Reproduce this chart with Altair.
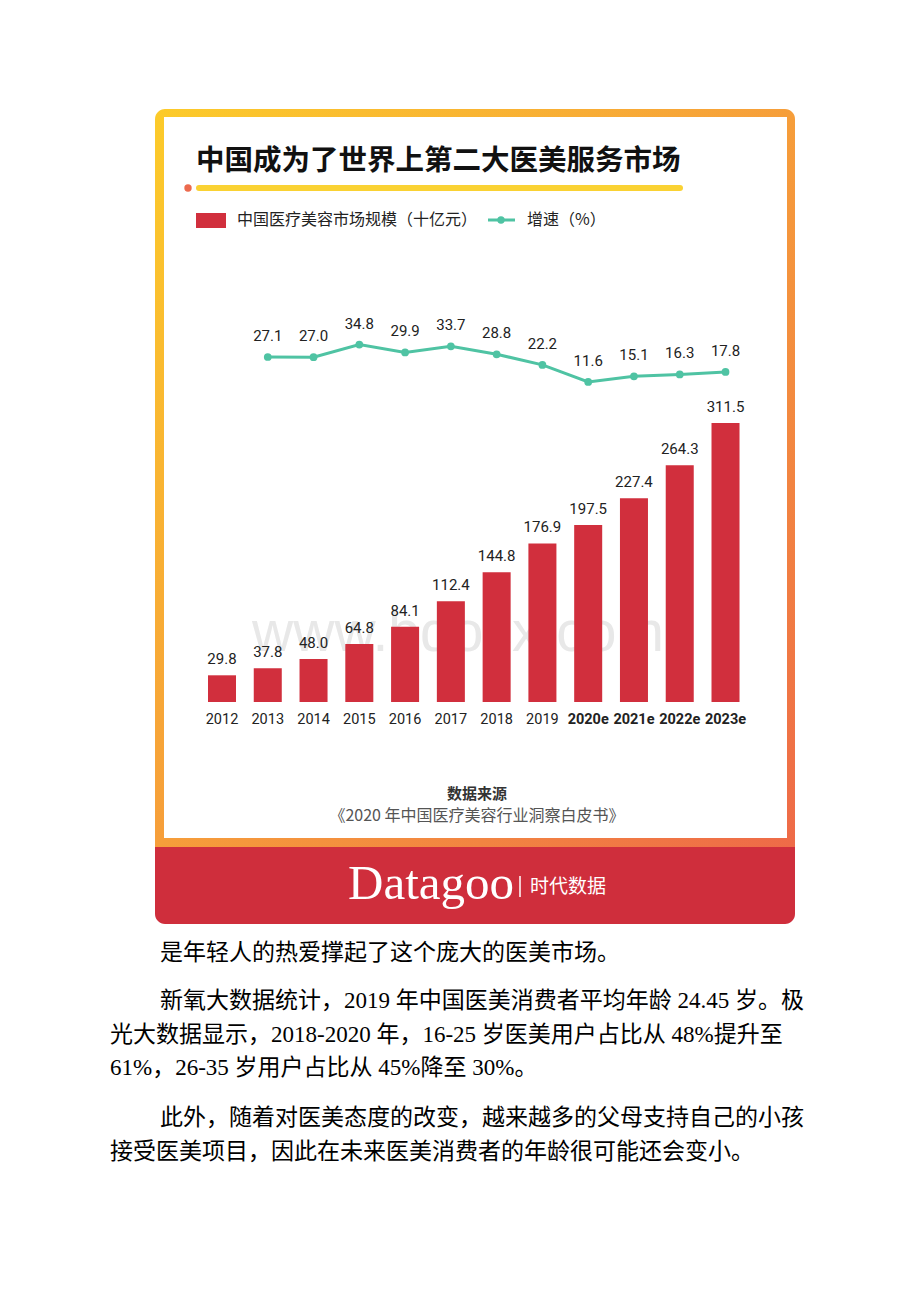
import altair as alt
import pandas as pd

# ---------------- data ----------------
years = ["2012", "2013", "2014", "2015", "2016", "2017", "2018", "2019",
         "2020e", "2021e", "2022e", "2023e"]
market_size = [29.8, 37.8, 48.0, 64.8, 84.1, 112.4, 144.8, 176.9,
               197.5, 227.4, 264.3, 311.5]
growth_years = ["2013", "2014", "2015", "2016", "2017", "2018", "2019",
                "2020e", "2021e", "2022e", "2023e"]
growth_rate = [27.1, 27.0, 34.8, 29.9, 33.7, 28.8, 22.2, 11.6, 15.1, 16.3, 17.8]

title_text = "中国成为了世界上第二大医美服务市场"
legend_bar_label = "中国医疗美容市场规模（十亿元）"
legend_line_label = "增速（%）"
source_title = "数据来源"
source_text = "《2020 年中国医疗美容行业洞察白皮书》"
brand_text = "Datagoo"
brand_cn = "时代数据"
watermark_text = "www.bdocx.com"
body_lines = [
    "是年轻人的热爱撑起了这个庞大的医美市场。",
    "新氧大数据统计，2019 年中国医美消费者平均年龄 24.45 岁。极",
    "光大数据显示，2018-2020 年，16-25 岁医美用户占比从 48%提升至",
    "61%，26-35 岁用户占比从 45%降至 30%。",
    "此外，随着对医美态度的改变，越来越多的父母支持自己的小孩",
    "接受医美项目，因此在未来医美消费者的年龄很可能还会变小。",
]

# ---------------- styling ----------------
W, H = 904, 1286
CJK = "Noto Sans CJK SC"
NUM = "Roboto"
BODY = "Liberation Serif, Noto Sans CJK SC"
RED = "#D12F3D"
TEAL = "#4FC3A3"
DARK = "#222222"

bars_df = pd.DataFrame({"year": years, "value": market_size,
                        "est": [y.endswith("e") for y in years]})
growth_df = pd.DataFrame({"year": growth_years, "rate": growth_rate})
one = pd.DataFrame({"k": [0]})

xscale = alt.Scale(domain=years, range=[191.1, 740.4],
                   paddingInner=0.388, paddingOuter=0.194)
ybar = alt.Scale(domain=[0, 350], range=[694, 380.4], nice=False)
yline = alt.Scale(domain=[0, 40], range=[392.7, 328.2], nice=False)

X = alt.X("year:N", scale=xscale, axis=None)


def rect(x, x2, y, y2, **mk):
    return alt.Chart(one).mark_rect(**mk).encode(
        x=alt.value(x), x2=alt.value(x2), y=alt.value(y), y2=alt.value(y2))


def text(s, x, y, **mk):
    return alt.Chart(one).mark_text(**mk).encode(
        x=alt.value(x), y=alt.value(y), text=alt.value(s))


frame_gradient = {
    "gradient": "linear", "x1": 0, "y1": 0, "x2": 1, "y2": 1,
    "stops": [{"offset": 0, "color": "#FCCB2A"},
              {"offset": 0.5, "color": "#F69E3A"},
              {"offset": 1, "color": "#EE6A48"}],
}

layers = [
    # card frame
    rect(147, 787, 101, 842, fill=frame_gradient,
         cornerRadiusTopLeft=10, cornerRadiusTopRight=10),
    rect(156, 779, 109, 830, fill="#FFFFFF"),
    rect(147, 787, 839, 916, fill="#CF2E3C",
         cornerRadiusBottomLeft=10, cornerRadiusBottomRight=10),
    # title + underline
    text(title_text, 188, 153, font=CJK, fontSize=28.5, fontWeight="bold",
         color="#111111", align="left", baseline="middle"),
    alt.Chart(one).mark_rule(strokeWidth=6, strokeCap="round", color="#FAD233").encode(
        x=alt.value(191), x2=alt.value(672), y=alt.value(180)),
    alt.Chart(one).mark_circle(size=55, color="#EC6A4E", opacity=1).encode(
        x=alt.value(180), y=alt.value(180)),
    # legend
    rect(188, 218, 205, 220, fill=RED),
    text(legend_bar_label, 229, 212, font=CJK, fontSize=16, color=DARK,
         align="left", baseline="middle"),
    alt.Chart(one).mark_rule(strokeWidth=3, color=TEAL).encode(
        x=alt.value(480), x2=alt.value(507), y=alt.value(212)),
    alt.Chart(one).mark_circle(size=55, color=TEAL, opacity=1).encode(
        x=alt.value(493), y=alt.value(212)),
    text(legend_line_label, 519, 212, font=CJK, fontSize=16, color=DARK,
         align="left", baseline="middle"),
    # watermark
    text(watermark_text, 450, 626, font="Liberation Sans", fontSize=57,
         color="#E8E8E8", align="center", baseline="middle"),
    # bars
    alt.Chart(bars_df).mark_bar(color=RED).encode(
        x=X, y=alt.Y("value:Q", scale=ybar, axis=None)),
    alt.Chart(bars_df).mark_text(font=NUM, fontSize=15, color=DARK,
                                 baseline="middle", dy=-16).encode(
        x=X, y=alt.Y("value:Q", scale=ybar, axis=None),
        text=alt.Text("value:Q", format=".1f")),
    # year labels
    alt.Chart(bars_df).transform_filter("!datum.est").mark_text(
        font=NUM, fontSize=14.5, color=DARK, baseline="middle").encode(
        x=X, y=alt.value(712), text="year:N"),
    alt.Chart(bars_df).transform_filter("datum.est").mark_text(
        font=NUM, fontSize=14.5, fontWeight="bold", color=DARK,
        baseline="middle").encode(
        x=X, y=alt.value(712), text="year:N"),
    # growth line
    alt.Chart(growth_df).mark_line(color=TEAL, strokeWidth=3).encode(
        x=X, y=alt.Y("rate:Q", scale=yline, axis=None)),
    alt.Chart(growth_df).mark_circle(color=TEAL, size=60, opacity=1).encode(
        x=X, y=alt.Y("rate:Q", scale=yline, axis=None)),
    alt.Chart(growth_df).mark_text(font=NUM, fontSize=15, color=DARK,
                                   baseline="middle", dy=-21).encode(
        x=X, y=alt.Y("rate:Q", scale=yline, axis=None),
        text=alt.Text("rate:Q", format=".1f")),
    # source
    text(source_title, 469, 786, font=CJK, fontSize=15, fontWeight="bold",
         color="#333333", align="center", baseline="middle"),
    text(source_text, 469, 808, font=CJK, fontSize=16, color="#555555",
         align="center", baseline="middle"),
    # footer brand
    text(brand_text, 340, 891, font="Liberation Serif", fontSize=49,
         color="#FFFFFF", align="left", baseline="alphabetic"),
    alt.Chart(one).mark_rule(strokeWidth=1.5, color="#FFFFFF").encode(
        x=alt.value(512), y=alt.value(868), y2=alt.value(889)),
    text(brand_cn, 522, 879, font=CJK, fontSize=19, color="#FFFFFF",
         align="left", baseline="middle"),
]

body_pos = [(152, 945), (152, 993), (102, 1027), (102, 1060), (152, 1110), (102, 1144)]
for s, (bx, by) in zip(body_lines, body_pos):
    layers.append(text(s, bx, by, font=BODY, fontSize=23, color="#000000",
                       align="left", baseline="middle"))

chart = (
    alt.layer(*layers)
    .properties(width=W, height=H, padding=0, autosize="none", background="#FFFFFF")
    .resolve_scale(y="independent")
    .configure_view(stroke=None)
)

chart.save("out.html", embed_options={"renderer": "svg", "actions": False})
